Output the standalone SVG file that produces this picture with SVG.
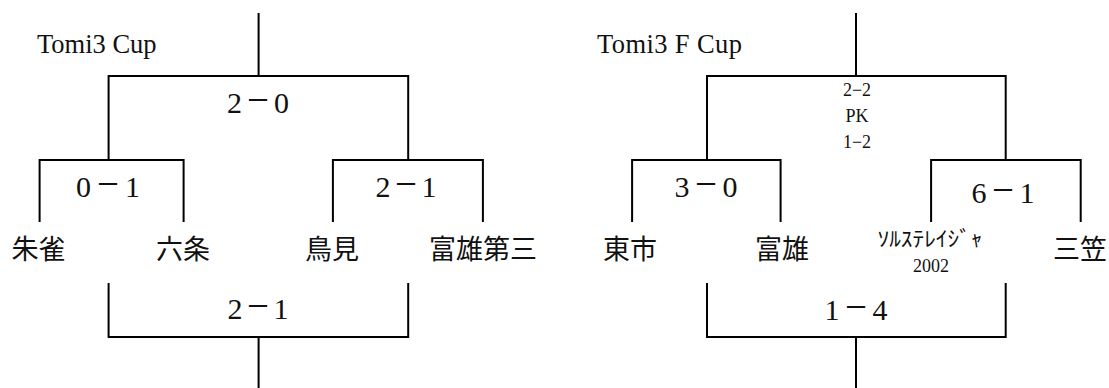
<svg xmlns="http://www.w3.org/2000/svg" width="1109" height="388" viewBox="0 0 1109 388">
<style>
.ln{fill:none;stroke:#000;stroke-width:2}
text{font-family:"Liberation Serif","DejaVu Serif",serif;fill:#111}
.title{font-size:26.5px}
.sc{font-size:30px;text-anchor:middle}
.sc tspan.d{font-size:39px}
.sm{font-size:18px;text-anchor:middle}
.nm{font-family:"Noto Sans CJK JP",sans-serif;font-size:27px;text-anchor:middle}
.kt{font-family:"Noto Sans CJK JP",sans-serif;font-size:21px;text-anchor:middle}
</style>
<rect width="1109" height="388" fill="#fff"/>
<g id="connectors">
<path class="ln" d="M258.6 13V76M108.6 160V76H408.2V160M39.6 222V160H183.6V222M332.9 222V160H482.9V222"/>
<path class="ln" d="M108.6 283V337H408.2V283M258.6 337V388"/>
<path class="ln" d="M856 13V76M707 160V76H1005.7V160M632.1 222V160H780.6V222M931.1 222V160H1080.7V222"/>
<path class="ln" d="M707 283V337H1005.7V283M856 337V388"/>
</g>
<g id="title-left"><text class="title" x="37" y="53">Tomi3 Cup</text></g>
<g id="title-right"><text class="title" x="597" y="53" textLength="145" lengthAdjust="spacing">Tomi3 F Cup</text></g>
<g id="score-l-final"><text class="sc" x="258" y="113" textLength="62" lengthAdjust="spacing">2<tspan class="d">−</tspan>0</text></g>
<g id="score-l-semi1"><text class="sc" x="108" y="197" textLength="64" lengthAdjust="spacing">0<tspan class="d">−</tspan>1</text></g>
<g id="score-l-semi2"><text class="sc" x="406" y="197" textLength="61" lengthAdjust="spacing">2<tspan class="d">−</tspan>1</text></g>
<g id="score-l-third"><text class="sc" x="258" y="319" textLength="61" lengthAdjust="spacing">2<tspan class="d">−</tspan>1</text></g>
<g id="score-r-final">
<text class="sm" x="857" y="96">2−2</text>
<text class="sm" x="857" y="122">PK</text>
<text class="sm" x="857" y="148">1−2</text>
</g>
<g id="score-r-semi1"><text class="sc" x="706" y="197" textLength="63" lengthAdjust="spacing">3<tspan class="d">−</tspan>0</text></g>
<g id="score-r-semi2"><text class="sc" x="1003" y="203" textLength="63" lengthAdjust="spacing">6<tspan class="d">−</tspan>1</text></g>
<g id="score-r-third"><text class="sc" x="856" y="320" textLength="63" lengthAdjust="spacing">1<tspan class="d">−</tspan>4</text></g>
<g id="team-suzaku"><text class="nm" x="38.5" y="259">朱雀</text></g>
<g id="team-rokujo"><text class="nm" x="183" y="259">六条</text></g>
<g id="team-toba"><text class="nm" x="332" y="259">鳥見</text></g>
<g id="team-tomio3"><text class="nm" x="483" y="259">富雄第三</text></g>
<g id="team-higashiichi"><text class="nm" x="630" y="259">東市</text></g>
<g id="team-tomio"><text class="nm" x="782" y="259">富雄</text></g>
<g id="team-sol"><text class="kt" x="930" y="246" textLength="105" lengthAdjust="spacingAndGlyphs">ｿﾙｽﾃﾚｲｼﾞｬ</text><text class="sm" x="931" y="272">2002</text></g>
<g id="team-mikasa"><text class="nm" x="1080" y="259">三笠</text></g>
</svg>
